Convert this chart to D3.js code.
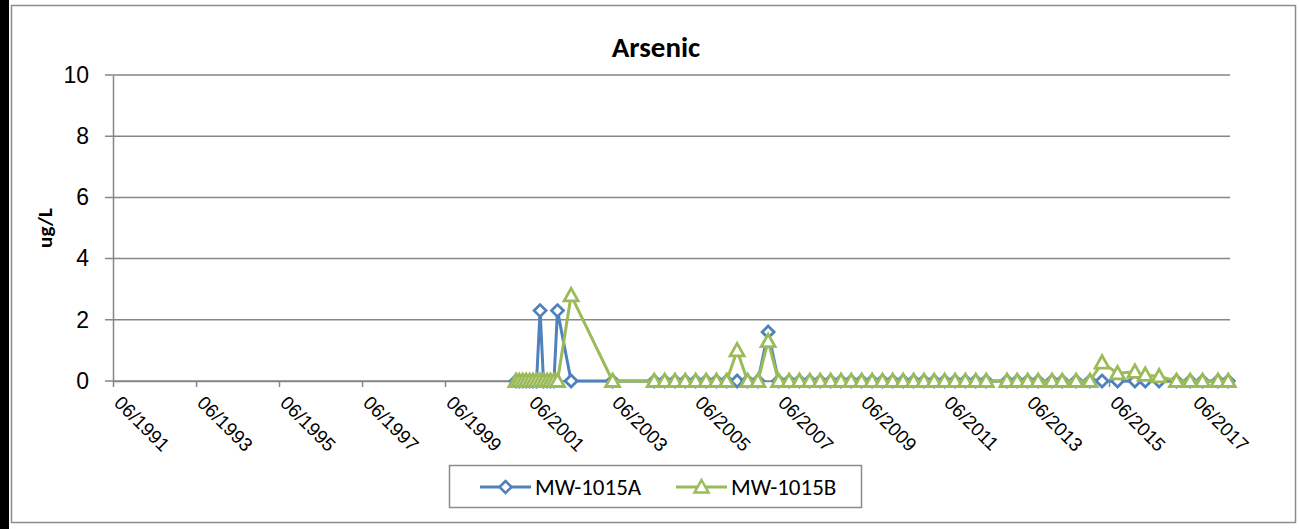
<!DOCTYPE html>
<html>
<head>
<meta charset="utf-8">
<script src="https://cdn.jsdelivr.net/npm/d3@7"></script>
<style>
  body { margin: 0; background: #fff; }
  svg { display: block; font-family: Carlito, Lato, "Liberation Sans", sans-serif; }
</style>
</head>
<body>
<svg id="svg" width="1299" height="529"></svg>
<script>
// sample dates and results (ug/L)
const datesA = [
  "2001-02-15", "2001-03-15", "2001-04-15", "2001-05-15", "2001-06-15", "2001-07-15",
  "2001-08-15", "2001-09-15", "2001-10-15", "2001-11-15", "2001-12-15", "2002-01-15",
  "2002-02-15", "2002-06-15", "2003-06-15",
  "2004-06-15", "2004-09-15", "2004-12-15", "2005-03-15", "2005-06-15", "2005-09-15",
  "2005-12-15", "2006-03-15", "2006-06-15", "2006-09-15", "2006-12-15", "2007-03-15",
  "2007-06-15", "2007-09-15", "2007-12-15", "2008-03-15", "2008-06-15", "2008-09-15",
  "2008-12-15", "2009-03-15", "2009-06-15", "2009-09-15", "2009-12-15", "2010-03-15",
  "2010-06-15", "2010-09-15", "2010-12-15", "2011-03-15", "2011-06-15", "2011-09-15",
  "2011-12-15", "2012-03-15", "2012-06-15", "2012-12-15", "2013-03-15", "2013-06-15",
  "2013-09-15", "2014-01-15", "2014-04-15", "2014-08-15", "2014-12-15", "2015-04-01",
  "2015-08-15", "2016-01-15", "2016-04-15", "2016-08-15", "2017-01-15", "2017-05-15",
  "2017-09-01", "2018-01-15", "2018-04-15"
];
const valuesA = [
  0, 0, 0, 0, 0, 0,
  0, 2.3, 0, 0, 0, 0,
  2.3, 0, 0,
  0, 0, 0, 0, 0, 0,
  0, 0, 0, 0, 0, 1.6,
  0, 0, 0, 0, 0, 0,
  0, 0, 0, 0, 0, 0,
  0, 0, 0, 0, 0, 0,
  0, 0, 0, 0, 0, 0,
  0, 0, 0, 0, 0, 0,
  0, 0, 0, 0, 0, 0,
  0, 0, 0
];
const datesB = [
  "2001-02-15", "2001-03-15", "2001-04-15", "2001-05-15", "2001-06-15", "2001-07-15",
  "2001-08-15", "2001-09-15", "2001-10-15", "2001-11-15", "2001-12-15", "2002-01-15",
  "2002-02-15", "2002-06-15", "2003-06-15",
  "2004-06-15", "2004-09-15", "2004-12-15", "2005-03-15", "2005-06-15", "2005-09-15",
  "2005-12-15", "2006-03-15", "2006-06-15", "2006-09-15", "2006-12-15", "2007-03-15",
  "2007-06-15", "2007-09-15", "2007-12-15", "2008-03-15", "2008-06-15", "2008-09-15",
  "2008-12-15", "2009-03-15", "2009-06-15", "2009-09-15", "2009-12-15", "2010-03-15",
  "2010-06-15", "2010-09-15", "2010-12-15", "2011-03-15", "2011-06-15", "2011-09-15",
  "2011-12-15", "2012-03-15", "2012-06-15", "2012-12-15", "2013-03-15", "2013-06-15",
  "2013-09-15", "2014-01-15", "2014-04-15", "2014-08-15", "2014-12-15", "2015-04-01",
  "2015-08-15", "2016-01-15", "2016-04-15", "2016-08-15", "2017-01-15", "2017-05-15",
  "2017-09-01", "2018-01-15", "2018-04-15"
];
const valuesB = [
  0, 0, 0, 0, 0, 0,
  0, 0, 0, 0, 0, 0,
  0, 2.8, 0,
  0, 0, 0, 0, 0, 0,
  0, 0, 1.0, 0, 0, 1.3,
  0, 0, 0, 0, 0, 0,
  0, 0, 0, 0, 0, 0,
  0, 0, 0, 0, 0, 0,
  0, 0, 0, 0, 0, 0,
  0, 0, 0, 0, 0, 0.6,
  0.25, 0.3, 0.2, 0.15, 0, 0,
  0, 0, 0
];
const seriesNames = ["MW-1015A", "MW-1015B"];
const seriesColors = ["#4F81BD", "#9BBB59"];
const yTicks = [0, 2, 4, 6, 8, 10];
const xTickYears = [1991, 1993, 1995, 1997, 1999, 2001, 2003, 2005, 2007, 2009, 2011, 2013, 2015, 2017];

let svg = d3.select("#svg");
let parse = d3.timeParse("%Y-%m-%d");

// chart frame
svg.append("rect").attr("x", 0).attr("y", 0).attr("width", 9).attr("height", 529).style("fill", "#000");
svg.append("rect")
  .attr("x", 11.5).attr("y", 5.5).attr("width", 1284).attr("height", 517)
  .style("fill", "#fff").style("stroke", "#8c8c8c").style("stroke-width", 1.5);

let x = d3.scaleTime()
  .domain([new Date(1991, 5, 1), new Date(2018, 4, 1)])
  .range([113, 1230]);
let y = d3.scaleLinear().domain([0, 10]).range([381, 75]);

// gridlines
svg.append("g")
  .selectAll("line")
  .data(yTicks)
  .enter()
  .append("line")
  .attr("x1", 105).attr("x2", 1230)
  .attr("y1", (d) => y(d)).attr("y2", (d) => y(d))
  .style("stroke", "#868686").style("stroke-width", 1.5);

// y axis
let yAxis = svg.append("g")
  .attr("transform", "translate(113,0)")
  .call(d3.axisLeft(y).tickValues(yTicks).tickSize(0).tickPadding(24));
yAxis.select(".domain").style("stroke", "#868686").style("stroke-width", 1.5);
yAxis.selectAll("text").style("font-size", "23px").style("fill", "#000");

// x axis
let xAxis = svg.append("g")
  .attr("transform", "translate(0,381)")
  .call(d3.axisBottom(x)
    .tickValues(xTickYears.map((yr) => new Date(yr, 5, 1)))
    .tickFormat(d3.timeFormat("%m/%Y"))
    .tickSize(6)
    .tickSizeOuter(0));
xAxis.select(".domain").style("stroke", "#868686").style("stroke-width", 1.5);
xAxis.selectAll(".tick line").style("stroke", "#868686").style("stroke-width", 1.5);
xAxis.selectAll("text")
  .attr("x", 16).attr("y", 10).attr("dy", "0.35em")
  .attr("transform", "rotate(45)")
  .style("text-anchor", "start")
  .style("font-size", "19px")
  .style("fill", "#000");

// titles
svg.append("text")
  .attr("x", 656).attr("y", 57)
  .attr("text-anchor", "middle")
  .style("font-size", "29px").style("font-weight", "bold")
  .text("Arsenic");
svg.append("text")
  .attr("transform", "translate(52,228) rotate(-90)")
  .attr("text-anchor", "middle")
  .style("font-size", "21px").style("font-weight", "bold")
  .text("ug/L");

const diamond = "M0,-6L6,0L0,6L-6,0Z";
const triangle = "M0,-7L7,5.5L-7,5.5Z";
const markers = [diamond, triangle];

let series = [
  datesA.map((d, i) => ({ date: parse(d), value: valuesA[i] })),
  datesB.map((d, i) => ({ date: parse(d), value: valuesB[i] })),
];

let line = d3.line()
  .x((d) => x(d.date))
  .y((d) => y(d.value));

series.forEach((data, k) => {
  let g = svg.append("g");
  g.append("path")
    .datum(data)
    .attr("d", line)
    .style("fill", "none")
    .style("stroke", seriesColors[k])
    .style("stroke-width", 3)
    .style("stroke-linejoin", "round");
  g.selectAll("path.marker")
    .data(data)
    .enter()
    .append("path")
    .attr("class", "marker")
    .attr("transform", (d) => "translate(" + x(d.date) + "," + y(d.value) + ")")
    .attr("d", markers[k])
    .style("fill", "#fff")
    .style("stroke", seriesColors[k])
    .style("stroke-width", 2.8);
});

// legend
let legend = svg.append("g");
legend.append("rect")
  .attr("x", 449.5).attr("y", 465.5).attr("width", 412).attr("height", 42)
  .style("fill", "#fff").style("stroke", "#8c8c8c").style("stroke-width", 1.5);
let legendX = [480, 676];
seriesNames.forEach((name, k) => {
  let lg = legend.append("g").attr("transform", "translate(" + legendX[k] + ",487)");
  lg.append("line").attr("x1", 0).attr("x2", 51)
    .style("stroke", seriesColors[k]).style("stroke-width", 3);
  lg.append("path").attr("transform", "translate(25.5,0)").attr("d", markers[k])
    .style("fill", "#fff").style("stroke", seriesColors[k]).style("stroke-width", 2.5);
  lg.append("text").attr("x", 55).attr("dy", "0.35em")
    .style("font-size", "23px")
    .text(name);
});
</script>
</body>
</html>
